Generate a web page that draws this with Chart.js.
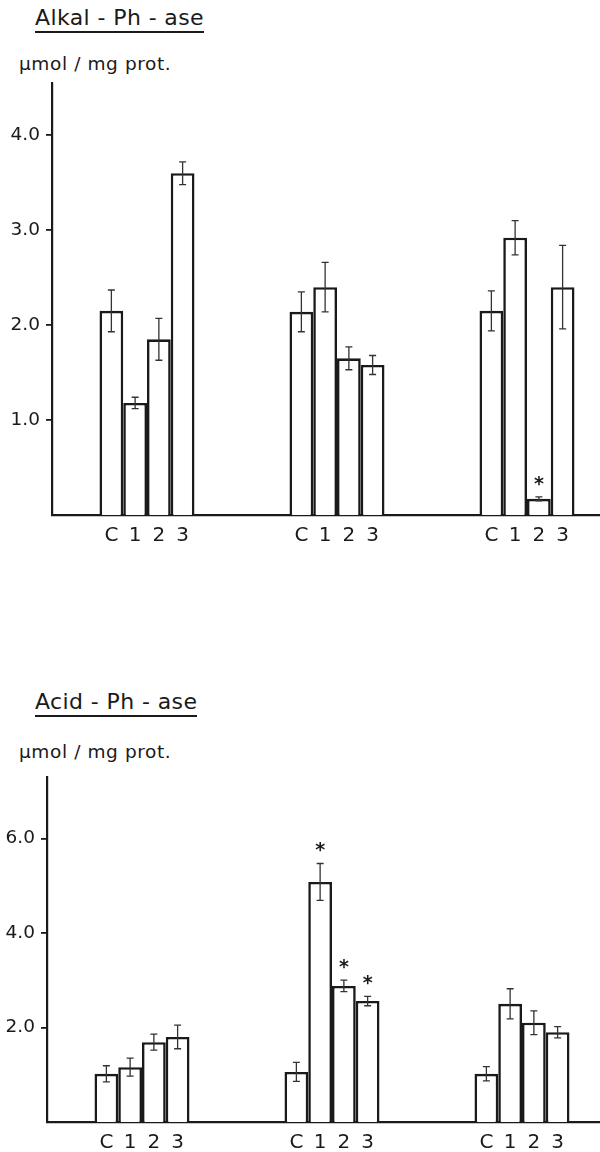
<!DOCTYPE html>
<html>
<head>
<meta charset="utf-8">
<script src="https://cdn.jsdelivr.net/npm/chart.js@4"></script>
<style>
  html, body { margin: 0; padding: 0; background: #fff; }
  body { width: 600px; height: 1152px; position: relative; overflow: hidden;
         font-family: "DejaVu Sans", sans-serif; color: #1a1a1a; }
  .title { position: absolute; left: 35px; font-size: 22px; line-height: 24px;
           border-bottom: 2.5px solid #1a1a1a; padding-bottom: 1px; letter-spacing: 0.4px; }
  .unit { position: absolute; left: 19px; font-size: 18.5px; letter-spacing: 0.6px; }
  .box { position: absolute; left: 0; }
</style>
</head>
<body>
<div class="title" style="top:6px">Alkal - Ph - ase</div>
<div class="unit" style="top:53px">µmol / mg prot.</div>
<div class="box" style="top:0"><canvas id="alk" width="622" height="580"></canvas></div>

<div class="title" style="top:690px">Acid - Ph - ase</div>
<div class="unit" style="top:741px">µmol / mg prot.</div>
<div class="box" style="top:600px"><canvas id="acid" width="617" height="552"></canvas></div>

<script>
// bar labels under each bar, three unnamed groups
const barLabels = ['C', '1', '2', '3'];
const groups = ['group 1', 'group 2', 'group 3'];

// Alkal-Ph-ase means and errors
const alkC = [2.15, 2.14, 2.15];
const alk1 = [1.18, 2.40, 2.92];
const alk2 = [1.85, 1.65, 0.17];
const alk3 = [3.60, 1.58, 2.40];
const alkErrC = [0.22, 0.21, 0.21];
const alkErr1 = [0.06, 0.26, 0.18];
const alkErr2 = [0.22, 0.12, 0.02];
const alkErr3 = [0.12, 0.10, 0.44];
const alkStars = [[2, 2]];        // [group, bar]
const alkTicks = [1, 2, 3, 4];

// Acid-Ph-ase means and errors
const acidC = [1.02, 1.06, 1.02];
const acid1 = [1.16, 5.08, 2.50];
const acid2 = [1.69, 2.88, 2.10];
const acid3 = [1.80, 2.56, 1.90];
const acidErrC = [0.17, 0.20, 0.15];
const acidErr1 = [0.19, 0.39, 0.32];
const acidErr2 = [0.17, 0.12, 0.25];
const acidErr3 = [0.25, 0.10, 0.12];
const acidStars = [[1, 1], [1, 2], [1, 3]];
const acidTicks = [2, 4, 6];

const ink = '#1a1a1a';

// error bars, stars and bar labels
const extras = {
  id: 'extras',
  afterDatasetsDraw(chart, args, opts) {
    const ctx = chart.ctx;
    const y = chart.scales.y;
    ctx.save();
    ctx.strokeStyle = '#333';
    ctx.fillStyle = ink;
    ctx.lineWidth = 1.3;
    chart.data.datasets.forEach((ds, i) => {
      const meta = chart.getDatasetMeta(i);
      meta.data.forEach((bar, j) => {
        const v = ds.data[j], e = opts.errors[i][j];
        const top = y.getPixelForValue(v + e);
        const bot = y.getPixelForValue(v - e);
        ctx.beginPath();
        ctx.moveTo(bar.x, top); ctx.lineTo(bar.x, bot);
        ctx.moveTo(bar.x - 3.5, top); ctx.lineTo(bar.x + 3.5, top);
        ctx.moveTo(bar.x - 3.5, bot); ctx.lineTo(bar.x + 3.5, bot);
        ctx.stroke();
        if (opts.stars.some(s => s[0] === j && s[1] === i)) {
          ctx.font = 'bold 19px "DejaVu Sans"';
          ctx.textAlign = 'center';
          ctx.textBaseline = 'middle';
          ctx.fillText('*', bar.x, top - 12);
        }
        ctx.font = '20px "DejaVu Sans"';
        ctx.textAlign = 'center';
        ctx.textBaseline = 'middle';
        ctx.fillText(barLabels[i], bar.x, chart.chartArea.bottom + 21);
      });
    });
    ctx.restore();
  }
};

function makeChart(id, series, errors, stars, ticks, max, axisLeft, padTop, padBottom) {
  new Chart(document.getElementById(id), {
    type: 'bar',
    data: {
      labels: groups,
      datasets: series.map((s, i) => ({
        label: barLabels[i],
        data: s,
        backgroundColor: '#fff',
        borderColor: ink,
        borderWidth: 2.6,
        barPercentage: 1.0,
        categoryPercentage: 0.5
      }))
    },
    options: {
      responsive: false,
      animation: false,
      devicePixelRatio: 1,
      layout: { padding: { top: padTop, bottom: padBottom, left: 0, right: 0 } },
      plugins: {
        legend: { display: false },
        tooltip: { enabled: false },
        extras: { errors: errors, stars: stars }
      },
      scales: {
        x: {
          grid: { display: false },
          border: { display: true, color: ink, width: 2.2 },
          ticks: { display: false },
          afterFit(scale) { scale.height = 0; }
        },
        y: {
          min: 0,
          max: max,
          afterBuildTicks(scale) { scale.ticks = ticks.map(v => ({ value: v })); },
          afterFit(scale) { scale.width = axisLeft; },
          grid: { drawOnChartArea: false, drawTicks: true, tickLength: 6, color: ink, lineWidth: 1.8 },
          border: { display: true, color: ink, width: 2.2 },
          ticks: {
            padding: 6,
            color: ink,
            font: { family: 'DejaVu Sans', size: 18.5 },
            callback: v => Number(v).toFixed(1)
          }
        }
      }
    },
    plugins: [extras]
  });
}

makeChart('alk', [alkC, alk1, alk2, alk3], [alkErrC, alkErr1, alkErr2, alkErr3],
  alkStars, alkTicks, 4.55, 52, 83, 65);
makeChart('acid', [acidC, acid1, acid2, acid3], [acidErrC, acidErr1, acidErr2, acidErr3],
  acidStars, acidTicks, 7.3, 47, 177, 30);
</script>
</body>
</html>
